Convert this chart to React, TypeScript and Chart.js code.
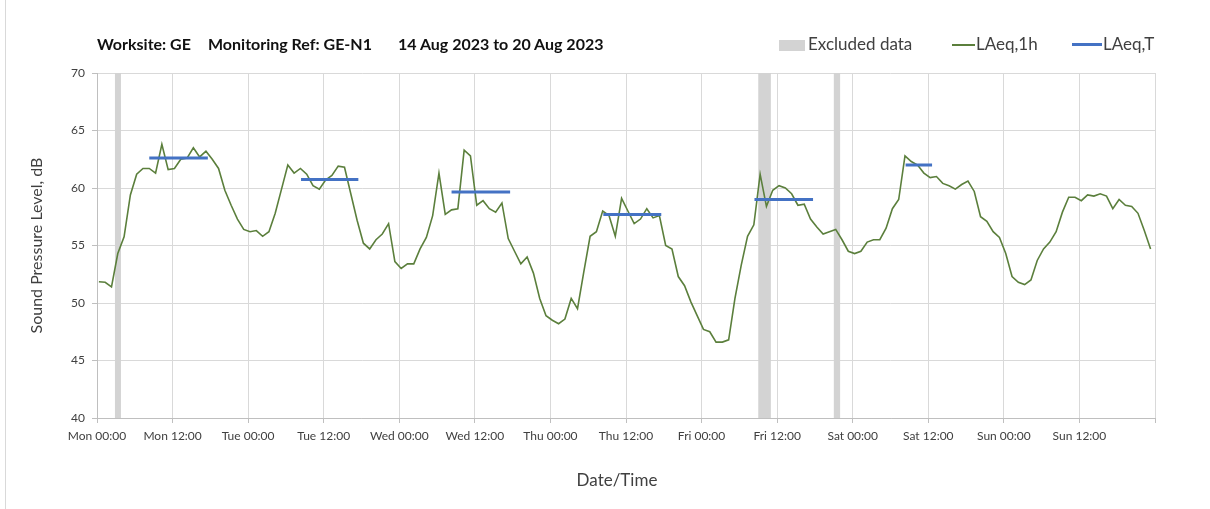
import React, { useEffect, useRef } from 'react';
import { Chart, registerables } from 'chart.js';

Chart.register(...registerables);

// ---- data ----
const xTickLabels = [
  'Mon 00:00', 'Mon 12:00', 'Tue 00:00', 'Tue 12:00', 'Wed 00:00', 'Wed 12:00',
  'Thu 00:00', 'Thu 12:00', 'Fri 00:00', 'Fri 12:00', 'Sat 00:00', 'Sat 12:00',
  'Sun 00:00', 'Sun 12:00', '',
];
const yTicks = [40, 45, 50, 55, 60, 65, 70];

// hours after Mon 00:00 of the first hourly reading
const firstReadingHour = 0.3;

const laeq1h = [
  51.85, 51.8, 51.4, 54.3, 55.75, 59.4, 61.2, 61.7, 61.7, 61.3, 63.8, 61.6, 61.7, 62.5, 62.6, 63.5, 62.7, 63.2, 62.5, 61.7, 59.8,
  58.5, 57.3, 56.4, 56.2, 56.3, 55.8, 56.2, 57.8, 59.9, 62.0, 61.3, 61.7, 61.2, 60.2, 59.9, 60.7, 61.1, 61.9, 61.8, 59.5, 57.2,
  55.2, 54.7, 55.5, 56.0, 56.9, 53.6, 53.0, 53.4, 53.4, 54.7, 55.7, 57.6, 61.3, 57.7, 58.1, 58.2, 63.3, 62.8, 58.5, 58.9, 58.2,
  57.9, 58.7, 55.6, 54.5, 53.4, 54.0, 52.6, 50.4, 48.9, 48.5, 48.2, 48.6, 50.4, 49.5, 52.7, 55.8, 56.2, 58.0, 57.6, 55.8, 59.1,
  58.0, 56.9, 57.3, 58.2, 57.4, 57.6, 55.0, 54.7, 52.3, 51.5, 50.1, 48.9, 47.7, 47.5, 46.6, 46.6, 46.8, 50.4, 53.3, 55.8,
  56.8, 61.2, 58.4, 59.8, 60.2, 60.0, 59.5, 58.5, 58.6, 57.3, 56.6, 56.0, 56.2, 56.4, 55.5, 54.5, 54.3, 54.5, 55.3, 55.5, 55.5,
  56.5, 58.2, 59.0, 62.8, 62.3, 62.0, 61.3, 60.9, 61.0, 60.4, 60.2, 59.9, 60.3, 60.6, 59.7, 57.5, 57.1, 56.2, 55.7,
  54.3, 52.3, 51.8, 51.6, 52.0, 53.7, 54.7, 55.3, 56.2, 57.9, 59.2, 59.2, 58.9, 59.4, 59.3, 59.5, 59.3, 58.2, 59.0, 58.5, 58.4, 57.8, 56.3, 54.7,
];

const laeqTStart = [8.3, 32.4, 56.3, 80.4, 104.4, 128.4];
const laeqTEnd = [17.6, 41.5, 65.6, 89.6, 113.7, 132.6];
const laeqTValue = [62.6, 60.75, 59.65, 57.7, 59.0, 62.0];

const excludedStart = [2.85, 105, 117];
const excludedEnd = [3.8, 107, 118];

// ---- styles ----
const GREEN = '#5b7f3c';
const BLUE = '#4472c4';
const GREY_BAND = '#d3d3d3';
const GRID = '#d9d9d9';
const TEXT = '#404040';
const FONT = 'Lato, "Open Sans", sans-serif';

const excludedPlugin = {
  id: 'excludedBands',
  beforeDatasetsDraw(chart: any) {
    const { ctx, chartArea, scales } = chart;
    const x = scales.x;
    ctx.save();
    ctx.fillStyle = GREY_BAND;
    excludedStart.forEach((s, k) => {
      const x0 = x.getPixelForValue(s);
      const x1 = x.getPixelForValue(excludedEnd[k]);
      ctx.fillRect(x0, chartArea.top, x1 - x0, chartArea.bottom - chartArea.top);
    });
    ctx.restore();
  },
};

export default function App() {
  const canvasRef = useRef<HTMLCanvasElement | null>(null);

  useEffect(() => {
    if (!canvasRef.current) return;
    const lineData = laeq1h.map((v, i) => ({ x: firstReadingHour + i, y: v }));
    const tData: any[] = [];
    laeqTStart.forEach((s, k) => {
      tData.push({ x: s, y: laeqTValue[k] });
      tData.push({ x: laeqTEnd[k], y: laeqTValue[k] });
      tData.push({ x: laeqTEnd[k], y: null });
    });

    const chart = new Chart(canvasRef.current, {
      type: 'line',
      data: {
        datasets: [
          {
            label: 'LAeq,T',
            data: tData,
            borderColor: BLUE,
            borderWidth: 3,
            pointRadius: 0,
            spanGaps: false,
            tension: 0,
          },
          {
            label: 'LAeq,1h',
            data: lineData,
            borderColor: GREEN,
            borderWidth: 1.6,
            pointRadius: 0,
            tension: 0,
          },
        ],
      },
      options: {
        animation: false,
        responsive: false,
        maintainAspectRatio: false,
        layout: { padding: { left: 0, right: 55, top: 73, bottom: 0 } },
        plugins: {
          legend: { display: false },
          title: { display: false },
          tooltip: { enabled: false },
        },
        scales: {
          x: {
            type: 'linear',
            min: 0,
            max: 168,
            afterFit: (scale: any) => { scale.height = 91; },
            afterBuildTicks: (scale: any) => {
              scale.ticks = xTickLabels.map((_, k) => ({ value: k * 12 }));
            },
            ticks: {
              autoSkip: false,
              maxRotation: 0,
              minRotation: 0,
              padding: 6,
              color: TEXT,
              font: { family: FONT, size: 12 },
              callback: (v: any) => xTickLabels[Math.round(Number(v) / 12)] ?? '',
            },
            grid: { color: GRID, tickLength: 5, tickColor: '#bfbfbf' },
            border: { color: '#bfbfbf' },
          },
          y: {
            min: 40,
            max: 70,
            afterFit: (scale: any) => { scale.width = 97; },
            afterBuildTicks: (scale: any) => {
              scale.ticks = yTicks.map((v) => ({ value: v }));
            },
            ticks: {
              padding: 7,
              color: TEXT,
              font: { family: FONT, size: 12 },
            },
            grid: { color: GRID, tickLength: 5, tickColor: '#bfbfbf' },
            border: { color: '#bfbfbf' },
            title: {
              display: true,
              text: 'Sound Pressure Level, dB',
              color: TEXT,
              font: { family: FONT, size: 16 },
              padding: { top: 27, bottom: 0 },
            },
          },
        },
      },
      plugins: [excludedPlugin],
    } as any);
    return () => chart.destroy();
  }, []);

  const titleStyle: React.CSSProperties = {
    position: 'absolute',
    top: 34,
    fontFamily: FONT,
    fontWeight: 700,
    fontSize: 16,
    color: '#111',
    whiteSpace: 'pre',
    lineHeight: '20px',
  };
  const legendText: React.CSSProperties = {
    position: 'absolute',
    top: 34,
    fontFamily: FONT,
    fontSize: 17,
    color: TEXT,
    whiteSpace: 'pre',
    lineHeight: '20px',
  };

  return (
    <div style={{ position: 'fixed', left: 0, top: 0, width: 1210, height: 509, background: '#fff', overflow: 'hidden' }}>
      <canvas ref={canvasRef} width={1210} height={509} style={{ position: 'absolute', left: 0, top: 0 }} />
      <div style={{ position: 'absolute', left: 5, top: 0, width: 1, height: 509, background: '#d9d9d9' }} />
      <span style={{ ...titleStyle, left: 97 }}>Worksite: GE</span>
      <span style={{ ...titleStyle, left: 208 }}>Monitoring Ref: GE-N1</span>
      <span style={{ ...titleStyle, left: 398 }}>14 Aug 2023 to 20 Aug 2023</span>

      <div style={{ position: 'absolute', left: 779, top: 40, width: 26, height: 11, background: GREY_BAND }} />
      <span style={{ ...legendText, left: 808 }}>Excluded data</span>
      <div style={{ position: 'absolute', left: 952, top: 44, width: 23, height: 1.6, background: GREEN }} />
      <span style={{ ...legendText, left: 976 }}>LAeq,1h</span>
      <div style={{ position: 'absolute', left: 1072, top: 43, width: 30, height: 3, background: BLUE }} />
      <span style={{ ...legendText, left: 1103 }}>LAeq,T</span>

      <div style={{ position: 'absolute', left: 517, width: 200, top: 470, textAlign: 'center', fontFamily: FONT, fontSize: 17, color: TEXT, lineHeight: '20px' }}>Date/Time</div>
    </div>
  );
}
